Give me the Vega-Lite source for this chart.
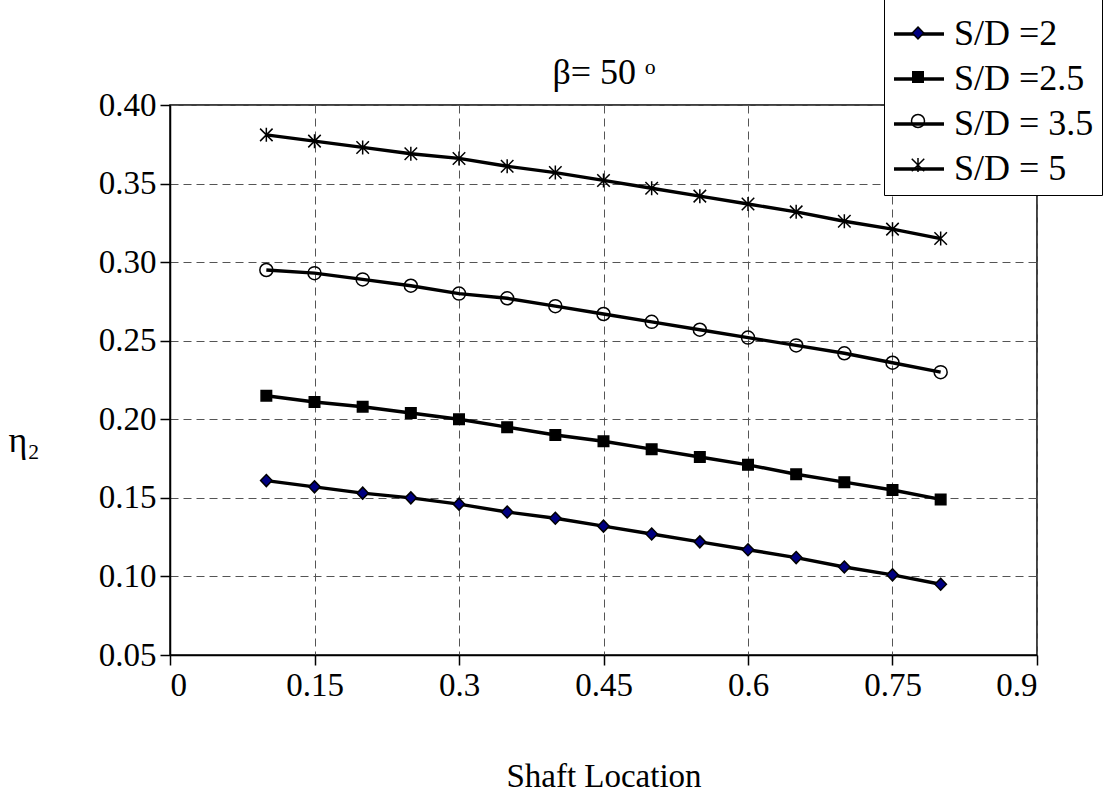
{
  "$schema": "https://vega.github.io/schema/vega-lite/v6.json",
  "width": 867,
  "height": 550,
  "autosize": {"type": "none"},
  "padding": {"left": 170, "top": 105, "right": 76, "bottom": 152},
  "background": "white",
  "datasets": {
    "eff": [
      {"x": 0.10, "eta": 0.161, "series": "S/D =2"},
      {"x": 0.15, "eta": 0.157, "series": "S/D =2"},
      {"x": 0.20, "eta": 0.153, "series": "S/D =2"},
      {"x": 0.25, "eta": 0.150, "series": "S/D =2"},
      {"x": 0.30, "eta": 0.146, "series": "S/D =2"},
      {"x": 0.35, "eta": 0.141, "series": "S/D =2"},
      {"x": 0.40, "eta": 0.137, "series": "S/D =2"},
      {"x": 0.45, "eta": 0.132, "series": "S/D =2"},
      {"x": 0.50, "eta": 0.127, "series": "S/D =2"},
      {"x": 0.55, "eta": 0.122, "series": "S/D =2"},
      {"x": 0.60, "eta": 0.117, "series": "S/D =2"},
      {"x": 0.65, "eta": 0.112, "series": "S/D =2"},
      {"x": 0.70, "eta": 0.106, "series": "S/D =2"},
      {"x": 0.75, "eta": 0.101, "series": "S/D =2"},
      {"x": 0.80, "eta": 0.095, "series": "S/D =2"},
      {"x": 0.10, "eta": 0.215, "series": "S/D =2.5"},
      {"x": 0.15, "eta": 0.211, "series": "S/D =2.5"},
      {"x": 0.20, "eta": 0.208, "series": "S/D =2.5"},
      {"x": 0.25, "eta": 0.204, "series": "S/D =2.5"},
      {"x": 0.30, "eta": 0.200, "series": "S/D =2.5"},
      {"x": 0.35, "eta": 0.195, "series": "S/D =2.5"},
      {"x": 0.40, "eta": 0.190, "series": "S/D =2.5"},
      {"x": 0.45, "eta": 0.186, "series": "S/D =2.5"},
      {"x": 0.50, "eta": 0.181, "series": "S/D =2.5"},
      {"x": 0.55, "eta": 0.176, "series": "S/D =2.5"},
      {"x": 0.60, "eta": 0.171, "series": "S/D =2.5"},
      {"x": 0.65, "eta": 0.165, "series": "S/D =2.5"},
      {"x": 0.70, "eta": 0.160, "series": "S/D =2.5"},
      {"x": 0.75, "eta": 0.155, "series": "S/D =2.5"},
      {"x": 0.80, "eta": 0.149, "series": "S/D =2.5"},
      {"x": 0.10, "eta": 0.295, "series": "S/D = 3.5"},
      {"x": 0.15, "eta": 0.293, "series": "S/D = 3.5"},
      {"x": 0.20, "eta": 0.289, "series": "S/D = 3.5"},
      {"x": 0.25, "eta": 0.285, "series": "S/D = 3.5"},
      {"x": 0.30, "eta": 0.280, "series": "S/D = 3.5"},
      {"x": 0.35, "eta": 0.277, "series": "S/D = 3.5"},
      {"x": 0.40, "eta": 0.272, "series": "S/D = 3.5"},
      {"x": 0.45, "eta": 0.267, "series": "S/D = 3.5"},
      {"x": 0.50, "eta": 0.262, "series": "S/D = 3.5"},
      {"x": 0.55, "eta": 0.257, "series": "S/D = 3.5"},
      {"x": 0.60, "eta": 0.252, "series": "S/D = 3.5"},
      {"x": 0.65, "eta": 0.247, "series": "S/D = 3.5"},
      {"x": 0.70, "eta": 0.242, "series": "S/D = 3.5"},
      {"x": 0.75, "eta": 0.236, "series": "S/D = 3.5"},
      {"x": 0.80, "eta": 0.230, "series": "S/D = 3.5"},
      {"x": 0.10, "eta": 0.381, "series": "S/D = 5"},
      {"x": 0.15, "eta": 0.377, "series": "S/D = 5"},
      {"x": 0.20, "eta": 0.373, "series": "S/D = 5"},
      {"x": 0.25, "eta": 0.369, "series": "S/D = 5"},
      {"x": 0.30, "eta": 0.366, "series": "S/D = 5"},
      {"x": 0.35, "eta": 0.361, "series": "S/D = 5"},
      {"x": 0.40, "eta": 0.357, "series": "S/D = 5"},
      {"x": 0.45, "eta": 0.352, "series": "S/D = 5"},
      {"x": 0.50, "eta": 0.347, "series": "S/D = 5"},
      {"x": 0.55, "eta": 0.342, "series": "S/D = 5"},
      {"x": 0.60, "eta": 0.337, "series": "S/D = 5"},
      {"x": 0.65, "eta": 0.332, "series": "S/D = 5"},
      {"x": 0.70, "eta": 0.326, "series": "S/D = 5"},
      {"x": 0.75, "eta": 0.321, "series": "S/D = 5"},
      {"x": 0.80, "eta": 0.315, "series": "S/D = 5"}
    ]
  },
  "data": {"name": "eff"},
  "config": {
    "font": "Liberation Serif",
    "view": {"stroke": "black", "strokeWidth": 1.5},
    "axis": {
      "domainColor": "black",
      "domainWidth": 1.5,
      "tickColor": "black",
      "tickWidth": 1.5,
      "tickSize": 10,
      "labelFont": "Liberation Serif",
      "labelFontSize": 33,
      "labelColor": "black",
      "titleFont": "Liberation Serif",
      "titleFontSize": 33,
      "titleFontWeight": "normal",
      "titleColor": "black",
      "grid": true,
      "gridColor": "#555555",
      "gridDash": [8, 5],
      "gridWidth": 1
    }
  },
  "encoding": {
    "y": {
      "field": "eta",
      "type": "quantitative",
      "scale": {"domain": [0.05, 0.4], "nice": false, "zero": false},
      "axis": {
        "values": [0.05, 0.1, 0.15, 0.2, 0.25, 0.3, 0.35, 0.4],
        "format": ".2f",
        "labelPadding": 4,
        "title": "η₂",
        "titleFontSize": 36,
        "titleAngle": 0,
        "titleAlign": "left",
        "titleBaseline": "middle",
        "titleX": -162,
        "titleY": 335
      }
    }
  },
  "layer": [
    {
      "mark": {"type": "line", "strokeWidth": 3.4},
      "encoding": {
        "x": {
          "field": "x",
          "type": "quantitative",
          "scale": {"domain": [0, 0.9], "nice": false, "zero": false},
          "axis": {
            "orient": "bottom",
            "values": [0, 0.15, 0.3, 0.45, 0.6, 0.75, 0.9],
            "format": ".2~f",
            "title": "Shaft Location",
            "labelPadding": 4,
            "titlePadding": 58
          }
        },
        "color": {
          "field": "series",
          "type": "nominal",
          "sort": null,
          "scale": {"range": ["#000000", "#000000", "#000000", "#000000"]},
          "legend": {
            "orient": "none",
            "legendX": 714,
            "legendY": -106,
            "title": null,
            "labelFont": "Liberation Serif",
            "labelFontSize": 36,
            "labelColor": "black",
            "labelOffset": 8,
            "symbolSize": 2500,
            "symbolType": "stroke",
            "symbolStrokeWidth": 3.4,
            "symbolStrokeColor": "black",
            "rowPadding": -9,
            "padding": 8,
            "fillColor": "white",
            "strokeColor": "black"
          }
        }
      }
    },
    {
      "mark": {"type": "point", "filled": true, "opacity": 1, "size": 2500, "stroke": "black", "strokeWidth": 1.5},
      "encoding": {
        "x": {
          "field": "x",
          "type": "quantitative",
          "axis": {
            "orient": "top",
            "title": "β= 50 ᵒ",
            "titleFontSize": 36,
            "titlePadding": 14,
            "labels": false,
            "ticks": false,
            "domain": false,
            "grid": false
          }
        },
        "shape": {
          "field": "series",
          "type": "nominal",
          "scale": {
            "domain": ["S/D =2", "S/D =2.5", "S/D = 3.5", "S/D = 5"],
            "range": [
              "M0,-0.24L0.23,0L0,0.24L-0.23,0Z",
              "M-0.21,-0.21L0.21,-0.21L0.21,0.21L-0.21,0.21Z",
              "M-0.26,0A0.26,0.26,0,1,1,0.26,0A0.26,0.26,0,1,1,-0.26,0Z",
              "M0,-0.28L0,0.28M-0.25,-0.25L0.25,0.25M-0.25,0.25L0.25,-0.25"
            ]
          },
          "legend": {
            "orient": "none",
            "legendX": 714,
            "legendY": -106,
            "title": null,
            "labelFont": "Liberation Serif",
            "labelFontSize": 36,
            "labelExpr": "''",
            "labelOffset": 8,
            "symbolSize": 2500,
            "symbolStrokeWidth": 1.5,
            "symbolStrokeColor": "black",
            "symbolOpacity": 1,
            "rowPadding": -9,
            "padding": 8,
            "encode": {
              "symbols": {
                "update": {
                  "stroke": {"value": "black"},
                  "strokeWidth": {"value": 1.5}
                }
              }
            }
          }
        },
        "fill": {
          "field": "series",
          "type": "nominal",
          "scale": {
            "domain": ["S/D =2", "S/D =2.5", "S/D = 3.5", "S/D = 5"],
            "range": ["#000080", "#000000", "transparent", "transparent"]
          },
          "legend": {
            "orient": "none",
            "legendX": 714,
            "legendY": -106,
            "title": null,
            "labelFont": "Liberation Serif",
            "labelFontSize": 36,
            "labelExpr": "''",
            "labelOffset": 8,
            "symbolSize": 2500,
            "symbolStrokeWidth": 1.5,
            "symbolStrokeColor": "black",
            "symbolOpacity": 1,
            "rowPadding": -9,
            "padding": 8,
            "encode": {
              "symbols": {
                "update": {
                  "stroke": {"value": "black"},
                  "strokeWidth": {"value": 1.5}
                }
              }
            }
          }
        }
      }
    }
  ]
}
